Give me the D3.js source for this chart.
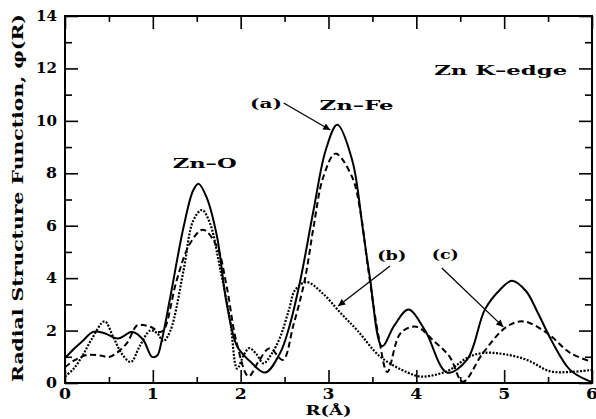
<!DOCTYPE html>
<html>
<head>
<meta charset="utf-8">
<script src="https://cdn.jsdelivr.net/npm/d3@7"></script>
<style>
  body { margin: 0; background: #fff; }
  text { font-family: "DejaVu Serif", "Liberation Serif", serif; font-weight: bold; fill: #000; }
</style>
</head>
<body>
<svg width="596" height="419"></svg>
<script>
// curve (a) solid
var rA = [0, 0.1, 0.2, 0.32, 0.45, 0.6, 0.77, 0.89, 0.99, 1.05, 1.1, 1.2, 1.35, 1.46, 1.52, 1.61, 1.73, 1.84, 1.96, 2.1, 2.28, 2.45, 2.55, 2.68, 2.83, 2.97, 3.1, 3.27, 3.39, 3.47, 3.61, 3.75, 3.91, 4.1, 4.35, 4.58, 4.78, 4.95, 5.09, 5.25, 5.38, 5.55, 5.75, 5.95, 6.0];
var phiA = [0.95, 1.3, 1.6, 1.95, 1.9, 1.7, 1.95, 1.65, 1.0, 1.05, 1.6, 3.3, 5.95, 7.35, 7.6, 7.1, 5.6, 3.05, 1.4, 0.85, 0.4, 1.15, 2.1, 3.93, 6.6, 8.9, 9.85, 8.5, 5.9, 4.05, 1.4, 2.2, 2.8, 2.0, 0.4, 0.9, 2.8, 3.55, 3.9, 3.5, 2.7, 1.55, 0.5, 0.1, 0.05];

// curve (b) dotted
var rB = [0, 0.1, 0.2, 0.3, 0.45, 0.55, 0.65, 0.75, 0.85, 0.97, 1.05, 1.12, 1.2, 1.35, 1.46, 1.56, 1.65, 1.77, 1.88, 1.96, 2.04, 2.1, 2.18, 2.26, 2.35, 2.45, 2.55, 2.62, 2.75, 2.94, 3.13, 3.33, 3.59, 3.9, 4.04, 4.2, 4.38, 4.6, 4.78, 5.0, 5.26, 5.52, 5.75, 6.0];
var phiB = [0.25, 0.55, 1.05, 1.65, 2.35, 1.75, 1.1, 0.8, 1.4, 2.0, 1.9, 1.6, 2.0, 4.3, 6.2, 6.6, 6.1, 4.3, 2.4, 0.55, 1.1, 1.33, 1.1, 0.75, 1.1, 1.75, 2.8, 3.55, 3.85, 3.4, 2.7, 2.0, 1.0, 0.4, 0.25, 0.3, 0.5, 1.0, 1.15, 1.1, 0.88, 0.45, 0.42, 0.5];

// curve (c) dashed
var rC = [0, 0.1, 0.25, 0.4, 0.51, 0.7, 0.82, 0.91, 1.0, 1.06, 1.12, 1.27, 1.42, 1.57, 1.73, 1.84, 1.95, 2.09, 2.2, 2.33, 2.48, 2.6, 2.73, 2.83, 2.94, 3.08, 3.27, 3.36, 3.45, 3.58, 3.67, 3.82, 4.0, 4.2, 4.38, 4.53, 4.76, 5.03, 5.22, 5.49, 5.75, 6.0];
var phiC = [0.6, 0.85, 1.07, 1.05, 1.0, 1.5, 2.2, 2.2, 2.1, 1.95, 2.0, 3.9, 5.3, 5.85, 5.2, 3.7, 1.6, 0.25, 0.8, 1.33, 0.88, 2.2, 3.93, 5.95, 7.85, 8.75, 7.85, 6.6, 4.4, 1.6, 0.42, 1.9, 2.15, 1.6, 1.0, 0.05, 1.15, 2.15, 2.35, 1.9, 1.15, 0.8];

var xMajor = [0, 1, 2, 3, 4, 5, 6];
var xMinor = [0.5, 1.5, 2.5, 3.5, 4.5, 5.5];
var yMajor = [0, 2, 4, 6, 8, 10, 12, 14];
var yMinor = [1, 3, 5, 7, 9, 11, 13];

var svg = d3.select("svg");

var x = d3.scaleLinear().domain([0, 6]).range([65, 592]);
var y = d3.scaleLinear().domain([0, 14]).range([383, 16]);

var line = d3.line()
    .x(function(d) { return x(d[0]); })
    .y(function(d) { return y(d[1]); })
    .curve(d3.curveCatmullRom.alpha(0.5));

function pairs(rs, vs) { return rs.map(function(r, i) { return [r, vs[i]]; }); }

var series = [
  { pts: pairs(rA, phiA), dash: null, w: 2 },
  { pts: pairs(rC, phiC), dash: "6,3.5", w: 2 },
  { pts: pairs(rB, phiB), dash: "2,1.5", w: 2.2 }
];

svg.append("defs").append("clipPath").attr("id", "clip")
  .append("rect").attr("x", 65).attr("y", 16).attr("width", 527).attr("height", 367);

svg.append("g").attr("clip-path", "url(#clip)")
  .selectAll("path").data(series).enter().append("path")
    .attr("d", function(d) { return line(d.pts); })
    .attr("fill", "none")
    .attr("stroke", "#000")
    .attr("stroke-width", function(d) { return d.w; })
    .attr("stroke-dasharray", function(d) { return d.dash; });

// axes with inward ticks on all four sides
function ax(gen, scale, ticks, size, tx) {
  svg.append("g").attr("transform", tx)
    .call(gen(scale).tickValues(ticks).tickSize(size).tickFormat(""))
    .call(function(g) {
      g.select(".domain").remove();
      g.selectAll("line").attr("stroke-width", 1.6);
    });
}
ax(d3.axisTop, x, xMajor, 13, "translate(0,383)");
ax(d3.axisTop, x, xMinor, 6, "translate(0,383)");
ax(d3.axisBottom, x, xMajor, 13, "translate(0,16)");
ax(d3.axisBottom, x, xMinor, 6, "translate(0,16)");
ax(d3.axisRight, y, yMajor, 13, "translate(65,0)");
ax(d3.axisRight, y, yMinor, 7, "translate(65,0)");
ax(d3.axisLeft, y, yMajor, 13, "translate(592,0)");
ax(d3.axisLeft, y, yMinor, 7, "translate(592,0)");

svg.append("rect")
  .attr("x", 65).attr("y", 16).attr("width", 527).attr("height", 367)
  .attr("fill", "none").attr("stroke", "#000").attr("stroke-width", 2);

// tick labels
svg.append("g").selectAll("text").data(xMajor).enter().append("text")
  .attr("x", function(d) { return x(d); })
  .attr("y", 395)
  .attr("text-anchor", "middle")
  .attr("dominant-baseline", "middle")
  .attr("textLength", 12).attr("lengthAdjust", "spacingAndGlyphs")
  .style("font-size", "14px")
  .text(function(d) { return d; });

svg.append("g").selectAll("text").data(yMajor).enter().append("text")
  .attr("x", 57)
  .attr("y", function(d) { return y(d) + 1; })
  .attr("text-anchor", "end")
  .attr("dominant-baseline", "middle")
  .attr("textLength", function(d) { return d >= 10 ? 21 : 11; })
  .attr("lengthAdjust", "spacingAndGlyphs")
  .style("font-size", "14px")
  .text(function(d) { return d; });

// axis titles
svg.append("text")
  .attr("x", x(3)).attr("y", 411)
  .attr("text-anchor", "middle").attr("dominant-baseline", "middle")
  .attr("textLength", 46).attr("lengthAdjust", "spacingAndGlyphs")
  .style("font-size", "13px")
  .text("R(Å)");

svg.append("text")
  .attr("transform", "translate(19,198) rotate(-90)")
  .attr("text-anchor", "middle").attr("dominant-baseline", "middle")
  .attr("textLength", 368).attr("lengthAdjust", "spacingAndGlyphs")
  .style("font-size", "14px")
  .text("Radial  Structure  Function,  φ(R)");

// annotations (data coords)
var labels = [
  { t: "Zn  K–edge", r: 4.96, v: 11.87, len: 133 },
  { t: "Zn–Fe", r: 3.32, v: 10.53, len: 74 },
  { t: "Zn–O", r: 1.59, v: 8.32, len: 64 },
  { t: "(a)", r: 2.29, v: 10.61, len: 32 },
  { t: "(b)", r: 3.72, v: 4.81, len: 29 },
  { t: "(c)", r: 4.33, v: 4.88, len: 27 }
];
svg.append("g").selectAll("text").data(labels).enter().append("text")
  .attr("x", function(d) { return x(d.r); })
  .attr("y", function(d) { return y(d.v); })
  .attr("text-anchor", "middle")
  .attr("dominant-baseline", "middle")
  .attr("textLength", function(d) { return d.len; })
  .attr("lengthAdjust", "spacingAndGlyphs")
  .style("font-size", "13px")
  .text(function(d) { return d.t; });

svg.select("defs").append("marker")
  .attr("id", "arr").attr("viewBox", "0 0 10 10")
  .attr("refX", 10).attr("refY", 5)
  .attr("markerWidth", 9).attr("markerHeight", 7)
  .attr("markerUnits", "userSpaceOnUse")
  .attr("orient", "auto")
  .append("path").attr("d", "M0,0L10,5L0,10z").attr("fill", "#000");

var arrows = [
  { r1: 2.49, v1: 10.68, r2: 3.02, v2: 9.65 },
  { r1: 3.70, v1: 4.46, r2: 3.11, v2: 2.94 },
  { r1: 4.29, v1: 4.39, r2: 4.99, v2: 2.14 }
];
svg.append("g").selectAll("line").data(arrows).enter().append("line")
  .attr("x1", function(d) { return x(d.r1); })
  .attr("y1", function(d) { return y(d.v1); })
  .attr("x2", function(d) { return x(d.r2); })
  .attr("y2", function(d) { return y(d.v2); })
  .attr("stroke", "#000").attr("stroke-width", 1.3)
  .attr("marker-end", "url(#arr)");
</script>
</body>
</html>
